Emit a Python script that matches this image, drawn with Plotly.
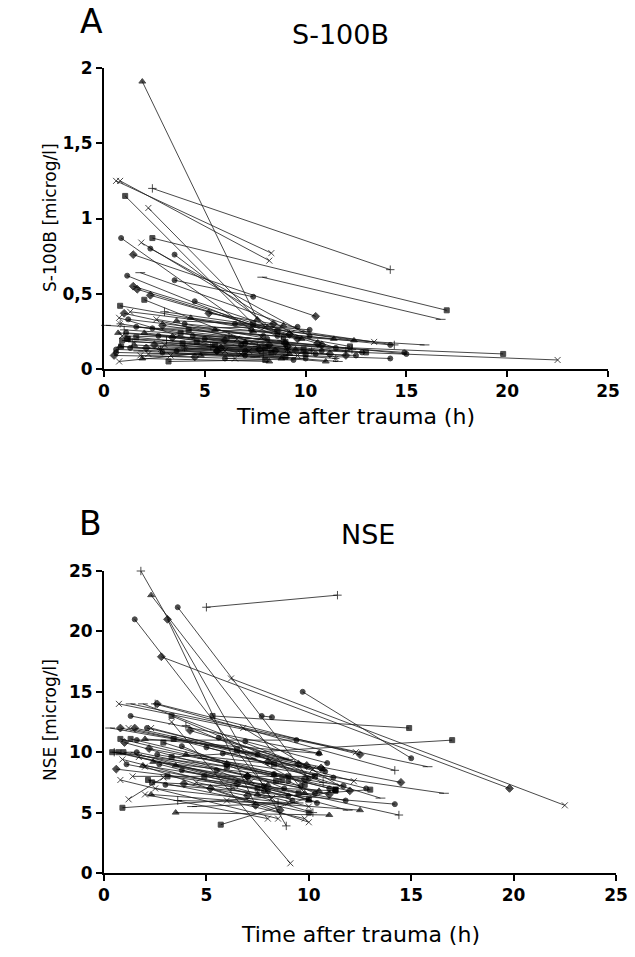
import plotly.graph_objects as go

# ---------------- Panel A: S-100B (first value -> second value per patient)
a_t1 = [1.9, 0.6, 0.8, 2.4, 1.05, 2.2, 2.4, 0.85, 1.85, 2.3, 1.45, 3.5, 7.85, 1.15, 1.8, 3.5, 1.45, 1.65, 2.0, 2.3,
        4.5, 0.8, 0.75, 1.0, 0.8, 1.3, 0.1, 3.0, 4.3, 4.0, 1.6, 1.1, 1.2, 3.0, 0.6, 0.8, 0.75, 1.9, 3.2, 0.85,
        0.6, 1.15, 2.0, 2.7, 3.4, 1.4, 2.5, 4.0, 5.0, 6.2, 1.7, 2.2, 3.6, 4.6, 5.5, 6.5, 2.9, 0.9, 3.8, 5.8,
        6.8, 4.8, 7.0, 2.6, 5.2, 1.3, 3.1, 0.5, 4.2, 6.0, 2.8, 7.4, 1.0, 3.3, 5.6,
        1.2, 0.9, 1.5, 2.1, 2.9, 1.8, 3.9, 4.4, 0.7, 5.3, 6.0, 2.4, 1.6, 3.6, 7.0]
a_v1 = [1.91, 1.25, 1.25, 1.20, 1.15, 1.07, 0.87, 0.87, 0.84, 0.80, 0.76, 0.76, 0.61, 0.62, 0.64, 0.59, 0.55, 0.53, 0.46, 0.49,
        0.45, 0.42, 0.34, 0.37, 0.30, 0.38, 0.29, 0.38, 0.34, 0.30, 0.28, 0.24, 0.20, 0.16, 0.13, 0.15, 0.05, 0.07, 0.05, 0.15,
        0.11, 0.20, 0.24, 0.22, 0.21, 0.18, 0.16, 0.14, 0.20, 0.22, 0.12, 0.10, 0.12, 0.18, 0.26, 0.30, 0.29, 0.22, 0.24, 0.14,
        0.10, 0.09, 0.17, 0.33, 0.37, 0.14, 0.19, 0.09, 0.26, 0.07, 0.13, 0.25, 0.26, 0.09, 0.12,
        0.33, 0.19, 0.16, 0.14, 0.11, 0.09, 0.17, 0.22, 0.24, 0.15, 0.19, 0.27, 0.21, 0.32, 0.12]
a_t2 = [7.6, 8.3, 8.2, 14.2, 7.4, 8.0, 17.0, 7.3, 9.3, 10.2, 10.5, 8.9, 16.7, 8.6, 10.0, 7.4, 9.2, 9.6, 8.0, 10.6,
        11.5, 12.2, 6.8, 8.2, 9.1, 13.4, 15.9, 14.4, 12.4, 14.2, 15.0, 14.9, 19.8, 22.5, 14.2, 11.0, 6.0, 8.2, 8.0, 9.0,
        7.0, 10.0, 9.5, 10.5, 8.5, 7.6, 12.0, 11.5, 10.8, 12.3, 7.5, 9.6, 6.8, 9.0, 9.8, 10.2, 9.0, 6.6, 13.0, 11.2,
        11.6, 8.8, 12.8, 7.8, 8.4, 5.6, 7.9, 4.5, 8.6, 9.4, 10.3, 11.4, 8.8, 7.2, 9.1,
        7.9, 8.3, 9.2, 7.7, 10.0, 6.5, 9.9, 8.1, 7.0, 12.0, 10.8, 9.6, 5.5, 8.9, 12.5]
a_v2 = [0.33, 0.77, 0.72, 0.66, 0.30, 0.28, 0.39, 0.26, 0.24, 0.22, 0.35, 0.21, 0.33, 0.22, 0.25, 0.48, 0.23, 0.20, 0.14, 0.17,
        0.14, 0.15, 0.10, 0.16, 0.13, 0.18, 0.16, 0.16, 0.19, 0.16, 0.10, 0.11, 0.10, 0.06, 0.07, 0.05, 0.12, 0.05, 0.06, 0.08,
        0.09, 0.10, 0.13, 0.10, 0.12, 0.15, 0.09, 0.07, 0.12, 0.13, 0.08, 0.09, 0.16, 0.18, 0.20, 0.26, 0.17, 0.20, 0.11, 0.10,
        0.05, 0.07, 0.11, 0.21, 0.30, 0.12, 0.10, 0.08, 0.25, 0.06, 0.12, 0.20, 0.19, 0.12, 0.15,
        0.22, 0.11, 0.10, 0.13, 0.07, 0.07, 0.13, 0.20, 0.18, 0.12, 0.16, 0.28, 0.16, 0.29, 0.09]
a_sym = ["tri", "x", "x", "plus", "sq", "x", "sq", "dot", "x", "dot", "dia", "dot", "dash", "dot", "dash", "dot", "dia", "dia", "sq", "dia",
         "dot", "sq", "x", "dia", "ast", "x", "dash", "plus", "tri", "dot", "dot", "dot", "sq", "x", "dot", "tri", "x", "tri", "sq", "sq",
         "dot", "sq", "tri", "dot", "dia", "plus", "dia", "ast", "dot", "plus", "dash", "x", "dot", "sq", "tri", "dot", "dia", "x", "sq", "dia",
         "dash", "tri", "dot", "x", "dia", "dot", "plus", "dia", "sq", "dot", "ast", "tri", "plus", "x", "dia",
         "dot", "sq", "tri", "dia", "dot", "x", "sq", "dot", "tri", "plus", "dia", "dot", "sq", "tri", "dot"]

# ---------------- Panel B: NSE
b_t1 = [1.8, 2.3, 3.6, 1.5, 3.1, 5.0, 2.8, 6.2, 9.7, 5.3, 3.3, 0.73, 1.3, 1.9, 2.5, 2.6, 1.3, 3.3, 7.7, 0.3,
        0.8, 1.2, 1.5, 2.1, 2.3, 0.8, 1.3, 2.0, 3.4, 1.6, 0.7, 0.95, 1.3, 1.6, 0.9, 2.0, 0.8, 1.4, 2.15, 2.35,
        1.2, 2.5, 3.0, 2.0, 2.3, 0.9, 3.5, 5.7, 4.3, 3.6, 3.3, 0.5, 4.8, 5.0, 6.0, 4.0, 5.5, 6.5, 3.8, 7.0,
        2.7, 4.5, 6.2, 7.5, 1.0, 5.6, 2.2, 6.8, 0.4, 3.8, 5.2, 1.9, 7.2, 4.0, 8.3, 6.0, 3.1, 9.0, 2.6, 8.0,
        1.1, 2.9, 4.2, 3.5, 1.7, 5.8, 0.6, 4.9, 6.9, 2.4, 7.8, 3.9]
b_v1 = [25.0, 23.0, 22.0, 21.0, 21.0, 22.0, 17.9, 16.1, 15.0, 13.0, 9.6, 14.0, 14.0, 14.0, 14.0, 14.0, 13.0, 13.0, 13.0, 12.0,
        12.0, 12.0, 12.0, 12.0, 12.0, 11.1, 11.1, 11.1, 11.1, 11.0, 10.0, 10.0, 10.0, 10.0, 9.4, 8.8, 7.7, 8.0, 7.7, 7.5,
        6.1, 7.0, 7.3, 6.5, 6.5, 5.4, 5.0, 4.0, 5.5, 6.0, 12.5, 10.0, 9.5, 10.4, 9.0, 9.8, 8.5, 10.2, 10.5, 8.0,
        9.0, 7.5, 7.0, 6.5, 10.8, 11.2, 10.3, 12.0, 10.0, 8.5, 7.0, 8.9, 9.5, 12.2, 8.2, 6.0, 8.0, 7.6, 9.8, 9.2,
        9.0, 10.8, 11.8, 8.9, 9.6, 9.9, 8.6, 8.0, 10.9, 9.2, 7.2, 7.4]
b_t2 = [8.9, 9.8, 10.0, 8.0, 7.4, 11.4, 19.8, 22.5, 15.0, 14.9, 17.0, 12.3, 15.8, 9.0, 14.2, 12.5, 10.5, 10.3, 8.2, 8.8,
        14.5, 10.2, 9.5, 7.5, 12.2, 11.3, 9.0, 10.5, 8.3, 9.4, 10.0, 8.4, 11.9, 9.6, 10.0, 10.0, 8.5, 10.3, 10.0, 11.3,
        2.9, 9.0, 14.2, 8.0, 12.5, 13.0, 11.0, 11.3, 9.5, 8.5, 9.1, 14.4, 16.6, 12.8, 12.0, 10.7, 9.2, 9.8, 8.8, 11.0,
        7.8, 8.2, 10.2, 10.0, 7.0, 10.8, 9.8, 11.5, 6.0, 11.8, 8.6, 8.0, 13.5, 10.7, 11.0, 9.8, 7.5, 10.3, 11.7, 10.6,
        9.0, 8.7, 9.9, 10.5, 7.2, 11.2, 6.5, 9.5, 10.9, 8.3, 10.4, 7.0]
b_v2 = [3.9, 6.6, 7.8, 6.8, 5.6, 23.0, 7.0, 5.6, 9.5, 12.0, 11.0, 10.0, 8.8, 9.4, 8.5, 9.8, 9.9, 8.0, 12.9, 9.5,
        7.5, 8.6, 9.0, 9.8, 7.6, 6.9, 8.0, 9.9, 9.0, 11.0, 6.1, 7.6, 5.2, 7.2, 5.5, 4.2, 4.5, 8.0, 5.0, 6.8,
        7.9, 5.8, 5.7, 4.5, 5.2, 6.9, 4.8, 6.9, 5.8, 5.8, 0.8, 4.8, 6.6, 7.0, 6.8, 8.6, 6.0, 7.3, 7.0, 6.5,
        6.8, 6.2, 5.0, 6.0, 8.0, 8.4, 7.8, 7.2, 8.8, 6.0, 5.2, 7.3, 6.2, 7.5, 7.0, 4.5, 7.0, 6.6, 7.2, 8.7,
        6.4, 7.7, 8.9, 6.8, 7.6, 7.9, 7.4, 6.6, 9.1, 8.1, 5.8, 6.4]
b_sym = ["plus", "tri", "dot", "dot", "dia", "plus", "dia", "x", "dot", "sq", "sq", "x", "dash", "dash", "plus", "dia", "dot", "sq", "dot", "dash",
         "dia", "x", "dia", "dot", "x", "sq", "sq", "tri", "sq", "dot", "sq", "sq", "dash", "dot", "x", "x", "x", "x", "sq", "sq",
         "x", "x", "dot", "x", "tri", "sq", "tri", "sq", "dash", "plus", "x", "plus", "dash", "dot", "dia", "tri", "dot", "sq", "dot", "dia",
         "dot", "x", "plus", "tri", "dia", "dot", "dia", "x", "sq", "dot", "dia", "tri", "dash", "plus", "dot", "x", "sq", "dot", "dot", "dia",
         "dot", "sq", "dia", "tri", "x", "dot", "dia", "sq", "dot", "tri", "dot", "dia"]

SYMBOLS = {"tri": ("triangle-up", 6), "x": ("x-thin", 6), "plus": ("cross-thin", 6), "sq": ("square", 5),
           "dot": ("circle", 5), "dia": ("diamond", 6), "dash": ("line-ew", 7), "ast": ("asterisk", 6)}

FONT = "DejaVu Sans, Arial, sans-serif"


def segments(t1, v1, t2, v2, sym):
    xs, ys, ss, zs = [], [], [], []
    for a, b, c, d, s in zip(t1, v1, t2, v2, sym):
        name, size = SYMBOLS[s]
        xs += [a, c, None]
        ys += [b, d, None]
        ss += [name, name, "circle"]
        zs += [size, size, 0]
    return xs, ys, ss, zs


fig = go.Figure()
for (t1, v1, t2, v2, sym), xa, ya in [((a_t1, a_v1, a_t2, a_v2, a_sym), "x", "y"),
                                       ((b_t1, b_v1, b_t2, b_v2, b_sym), "x2", "y2")]:
    xs, ys, ss, zs = segments(t1, v1, t2, v2, sym)
    fig.add_trace(go.Scatter(
        x=xs, y=ys, xaxis=xa, yaxis=ya, mode="lines+markers", connectgaps=False,
        line=dict(color="#1a1a1a", width=0.8),
        marker=dict(symbol=ss, size=zs, color="black", line=dict(color="black", width=1)),
        cliponaxis=False, showlegend=False, hoverinfo="skip"))

W, H = 635, 957
axis_common = dict(showline=True, linecolor="black", linewidth=2, ticks="outside", ticklen=6,
                   tickwidth=2, tickcolor="black", showgrid=False, zeroline=False, automargin=False,
                   tickfont=dict(family=FONT, size=17, color="black", weight="bold"))

fig.update_layout(
    width=W, height=H, margin=dict(l=0, r=0, t=0, b=0, pad=0), autosize=False,
    paper_bgcolor="white", plot_bgcolor="white",
    xaxis=dict(domain=[104 / W, 608 / W], range=[0, 25], tickvals=[0, 5, 10, 15, 20, 25], anchor="y", **axis_common),
    yaxis=dict(domain=[1 - 369 / H, 1 - 68 / H], range=[0, 2], tickvals=[0, 0.5, 1, 1.5, 2],
               ticktext=["0", "0,5", "1", "1,5", "2"], anchor="x", **axis_common),
    xaxis2=dict(domain=[104 / W, 616 / W], range=[0, 25], tickvals=[0, 5, 10, 15, 20, 25], anchor="y2", **axis_common),
    yaxis2=dict(domain=[1 - 873 / H, 1 - 571 / H], range=[0, 25], tickvals=[0, 5, 10, 15, 20, 25], anchor="x2", **axis_common),
)


def ann(text, px, py, size, angle=0, xanchor="center"):
    fig.add_annotation(text=text, x=px / W, y=1 - py / H, xref="paper", yref="paper",
                       xanchor=xanchor, yanchor="middle", showarrow=False, textangle=angle,
                       font=dict(family=FONT, size=size, color="black"))


ann("A", 91, 21, 33)
ann("S-100B", 340, 34, 27)
ann("Time after trauma (h)", 355, 417, 22)
ann("S-100B [microg/l]", 50, 218, 17, angle=-90)
ann("B", 90, 523, 33)
ann("NSE", 368, 534, 27)
ann("Time after trauma (h)", 360, 934, 22)
ann("NSE [microg/l]", 50, 720, 17, angle=-90)

fig.write_html("out.html", config={"displayModeBar": False},
               post_script="document.body.style.margin='0';")
